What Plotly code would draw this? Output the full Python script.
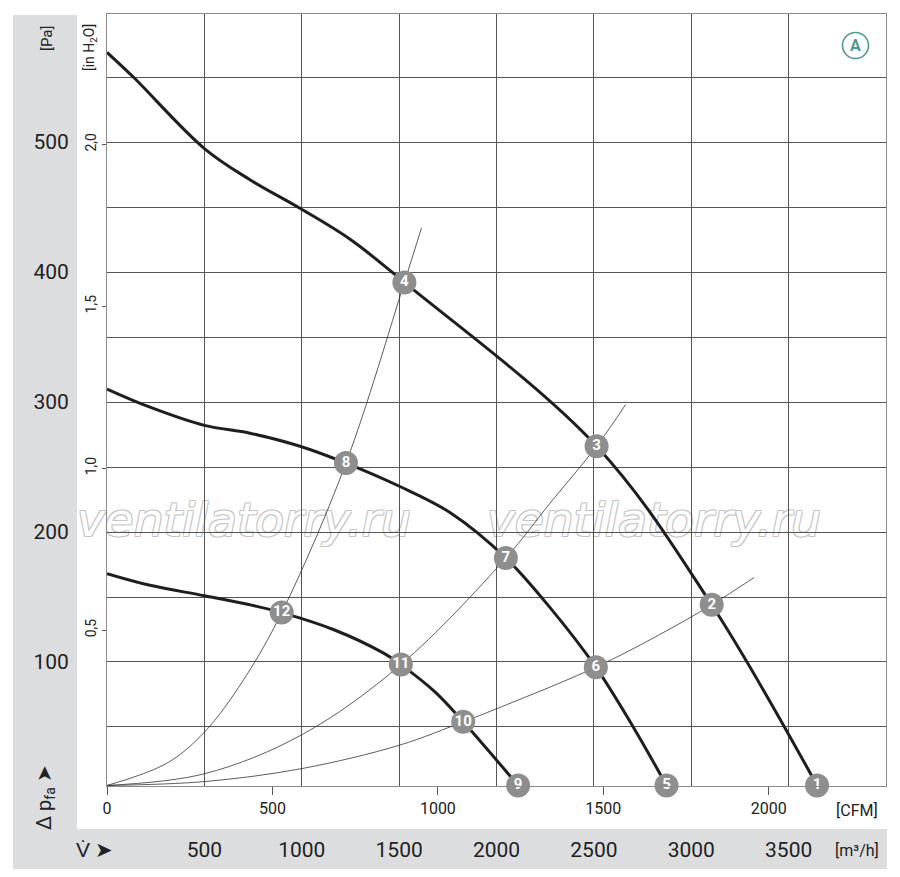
import plotly.graph_objects as go

# axes : débit en m3/h (principal) et CFM, pression en Pa (principal) et inH2O
m3h_ticks = [500, 1000, 1500, 2000, 2500, 3000, 3500]
cfm_ticks = [0, 500, 1000, 1500, 2000]
pa_grid = [50, 100, 150, 200, 250, 300, 350, 400, 450, 500, 550]
pa_labels = ['', '100', '', '200', '', '300', '', '400', '', '500', '']
inh2o_ticks = [0.5, 1.0, 1.5, 2.0]
inh2o_labels = ['0,5', '1,0', '1,5', '2,0']

# courbes du ventilateur (m3/h, Pa)
fan_a_x = [0, 135, 500, 734, 991, 1250, 1527, 2514, 3105, 3646]
fan_a_y = [569, 550, 495, 471, 449, 425, 392, 266, 144, 5]
fan_b_x = [0, 221, 500, 734, 991, 1227, 1504, 1761, 2048, 2274, 2510, 2702, 2873]
fan_b_y = [310, 296, 282, 276, 266, 253, 235, 215, 180, 142, 96, 50, 5]
fan_c_x = [0, 221, 500, 734, 897, 1162, 1418, 1509, 1684, 1829, 2111]
fan_c_y = [168, 159, 151, 144, 138, 125, 107, 98, 77, 54, 5]

# courbes de réseau
sys_a_x = [0, 306, 500, 700, 897, 1227, 1527, 1615]
sys_a_y = [5, 22, 46, 86, 138, 253, 392, 434]
sys_b_x = [0, 500, 1000, 1509, 2048, 2274, 2514, 2663]
sys_b_y = [5, 14, 44, 98, 180, 222, 266, 298]
sys_c_x = [0, 500, 1000, 1502, 1829, 2000, 2510, 2873, 3105, 3323]
sys_c_y = [5, 8, 18, 36, 54, 64, 96, 124, 144, 165]

# points numérotés
pt_labels = ['1', '2', '3', '4', '5', '6', '7', '8', '9', '10', '11', '12']
pt_x = [3646, 3105, 2514, 1527, 2873, 2510, 2048, 1227, 2111, 1829, 1509, 897]
pt_y = [5, 144, 266, 392, 5, 96, 180, 253, 5, 54, 98, 138]

M3H_PER_CFM = 1.699
PA_PER_INH2O = 249.09
X_RANGE = [0, 4000]
Y_RANGE = [4.6, 598.5]

W, H = 900, 877
ML, MR, MT, MB = 107, 14, 14, 91
FONT = "Roboto, sans-serif"
GRID = '#555555'


def px(x):
    return (x - ML) / (W - ML - MR)


def py(y):
    return (H - MB - y) / (H - MT - MB)


fig = go.Figure()

for sx, sy in [(sys_a_x, sys_a_y), (sys_b_x, sys_b_y), (sys_c_x, sys_c_y)]:
    fig.add_trace(go.Scatter(x=sx, y=sy, mode='lines',
                             line=dict(color='#333333', width=0.8,
                                       shape='spline', smoothing=1),
                             hoverinfo='skip', showlegend=False))

for fx, fy in [(fan_a_x, fan_a_y), (fan_b_x, fan_b_y), (fan_c_x, fan_c_y)]:
    fig.add_trace(go.Scatter(x=fx, y=fy, mode='lines',
                             line=dict(color='#1e1e1e', width=3,
                                       shape='spline', smoothing=1),
                             hoverinfo='skip', showlegend=False))

fig.add_trace(go.Scatter(
    x=pt_x, y=pt_y, mode='markers+text', text=pt_labels,
    textposition='middle center',
    textfont=dict(family=FONT, size=15, color='white', weight='bold'),
    marker=dict(size=24, color='#8e8e8e'),
    cliponaxis=False, showlegend=False, hoverinfo='skip'))

# mêmes points en CFM / inH2O pour faire apparaître les axes secondaires
fig.add_trace(go.Scatter(
    x=[v / M3H_PER_CFM for v in pt_x], y=[p / PA_PER_INH2O for p in pt_y],
    xaxis='x2', yaxis='y2', mode='markers', marker=dict(opacity=0),
    showlegend=False, hoverinfo='skip'))

# bandes grises
shapes = [
    dict(type='rect', xref='paper', yref='paper', layer='below',
         x0=px(13), x1=px(77), y0=py(869), y1=py(15),
         fillcolor='#dcdddf', line=dict(width=0)),
    dict(type='rect', xref='paper', yref='paper', layer='below',
         x0=px(13), x1=px(887), y0=py(869), y1=py(829),
         fillcolor='#dcdddf', line=dict(width=0)),
    dict(type='circle', xref='paper', yref='paper',
         x0=px(842.5), x1=px(868.5), y0=py(58.5), y1=py(32.5),
         line=dict(color='#4d9a95', width=1.6)),
]

outline = ('-1px -1px 0 #c4c4c4, 1px -1px 0 #c4c4c4, '
           '-1px 1px 0 #c4c4c4, 1px 1px 0 #c4c4c4')
for x0, x1 in [(76, 412), (486, 822)]:
    shapes.append(dict(
        type='rect', xref='paper', yref='paper', layer='below',
        x0=px(x0), x1=px(x1), y0=py(543), y1=py(490),
        line=dict(width=0),
        label=dict(text='ventilatorry.ru', textposition='middle center',
                   font=dict(family='DejaVu Sans', size=47, color='white',
                             style='italic', shadow=outline))))

ann = [
    dict(x=px(47), y=py(38), text='[Pa]', textangle=-90, font=dict(size=15)),
    dict(x=px(90), y=py(48), text='[in H<sub>2</sub>O]', textangle=-90, font=dict(size=14)),
    dict(x=px(45), y=py(797), text='Δ p<sub>fa</sub> ➤', textangle=-90, font=dict(size=20)),
    dict(x=px(94), y=py(850), text='V̇ ➤', font=dict(size=21)),
    dict(x=px(857), y=py(810), text='[CFM]', font=dict(size=16)),
    dict(x=px(857), y=py(850), text='[m³/h]', font=dict(size=16)),
    dict(x=px(855.5), y=py(45.5), text='<b>A</b>', font=dict(size=16, color='#4d9a95')),
]
for a in ann:
    a.update(xref='paper', yref='paper', showarrow=False,
             xanchor='center', yanchor='middle')
    a['font'] = dict(family=FONT, color=a['font'].get('color', '#222222'),
                     size=a['font']['size'])

fig.update_layout(
    width=W, height=H,
    margin=dict(l=ML, r=MR, t=MT, b=MB, autoexpand=False),
    paper_bgcolor='white', plot_bgcolor='rgba(0,0,0,0)',
    font=dict(family=FONT, color='#222222'),
    shapes=shapes, annotations=ann,
    xaxis=dict(range=X_RANGE, tickvals=m3h_ticks, showgrid=True,
               gridcolor=GRID, gridwidth=1, ticks='', zeroline=False,
               tickfont=dict(size=21), ticklabelstandoff=45, automargin=False,
               showline=True, linecolor='#8a8a8a', mirror=True),
    xaxis2=dict(range=[X_RANGE[0] / M3H_PER_CFM, X_RANGE[1] / M3H_PER_CFM],
                overlaying='x', side='bottom', anchor='y2',
                tickvals=cfm_ticks, ticks='outside', ticklen=8,
                tickcolor='#555555', showgrid=False, zeroline=False,
                automargin=False, tickfont=dict(size=16)),
    yaxis=dict(range=Y_RANGE, tickvals=pa_grid, ticktext=pa_labels,
               showgrid=True, gridcolor=GRID, gridwidth=1, ticks='',
               zeroline=False, tickfont=dict(size=21), ticklabelstandoff=33,
               automargin=False,
               showline=True, linecolor='#8a8a8a', mirror=True),
    yaxis2=dict(range=[Y_RANGE[0] / PA_PER_INH2O, Y_RANGE[1] / PA_PER_INH2O],
                overlaying='y', side='left', anchor='x2',
                tickvals=inh2o_ticks, ticktext=inh2o_labels, tickangle=-90,
                ticks='outside', ticklen=4, tickcolor='#555555',
                showgrid=False, zeroline=False, automargin=False,
                tickfont=dict(size=14)),
)

# la page garde sinon la marge par défaut du body
fig.write_html("out.html", config={'displayModeBar': False},
               post_script="document.body.style.margin='0px';")
